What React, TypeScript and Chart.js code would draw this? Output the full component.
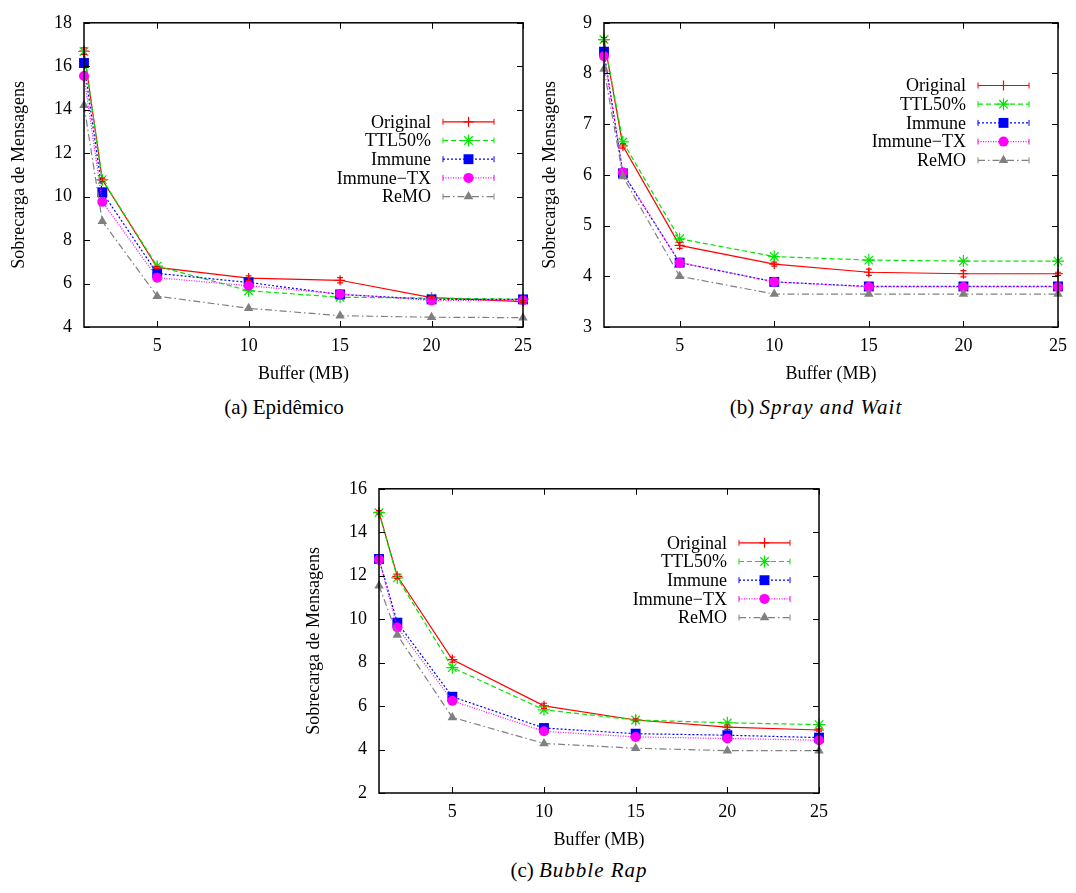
import React, { useEffect, useRef } from "react";
import { Chart, registerables } from "chart.js";

Chart.register(...registerables);

// ---------- data ----------
const bufferMB = [1, 2, 5, 10, 15, 20, 25];
const xTickValues = [5, 10, 15, 20, 25];
const seriesNames = ["Original", "TTL50%", "Immune", "Immune\u2212TX", "ReMO"];
const xAxisTitle = "Buffer (MB)";
const yAxisTitle = "Sobrecarga de Mensagens";

// (a) Epidêmico
const epiOriginal = [16.7, 10.77, 6.74, 6.25, 6.15, 5.35, 5.17];
const epiTTL50 = [16.68, 10.78, 6.8, 5.67, 5.37, 5.33, 5.28];
const epiImmune = [16.15, 10.2, 6.47, 6.05, 5.5, 5.27, 5.27];
const epiImmuneTX = [15.55, 9.76, 6.27, 5.9, 5.52, 5.22, 5.23];
const epiReMO = [14.2, 8.87, 5.42, 4.86, 4.52, 4.45, 4.43];
const epiOriginalErr = [0.15, 0.08, 0.05, 0.1, 0.12, 0.05, 0.05];

// (b) Spray and Wait
const sawOriginal = [8.67, 6.57, 4.61, 4.24, 4.08, 4.05, 4.05];
const sawTTL50 = [8.67, 6.65, 4.74, 4.39, 4.32, 4.3, 4.3];
const sawImmune = [8.43, 6.03, 4.27, 3.89, 3.8, 3.8, 3.8];
const sawImmuneTX = [8.34, 6.05, 4.27, 3.89, 3.79, 3.79, 3.79];
const sawReMO = [8.09, 5.97, 4.0, 3.65, 3.65, 3.65, 3.65];
const sawOriginalErr = [0.04, 0.04, 0.06, 0.04, 0.06, 0.06, 0.03];

// (c) Bubble Rap
const brOriginal = [14.92, 11.97, 8.14, 6.01, 5.36, 5.03, 4.9];
const brTTL50 = [14.9, 11.9, 7.77, 5.83, 5.36, 5.23, 5.15];
const brImmune = [12.77, 9.84, 6.43, 4.99, 4.73, 4.66, 4.55];
const brImmuneTX = [12.74, 9.62, 6.24, 4.84, 4.58, 4.51, 4.43];
const brReMO = [11.54, 9.27, 5.48, 4.28, 4.06, 3.95, 3.95];
const brOriginalErr = [0.08, 0.1, 0.12, 0.12, 0.05, 0.1, 0.05];

// ---------- styles ----------
const FONT = "'Liberation Serif', 'DejaVu Serif', 'Noto Serif', serif";
const seriesStyles = [
  { color: "#ff0000", dash: [] as number[], point: "cross", radius: 5, lw: 1.2 },
  { color: "#00e600", dash: [5, 3], point: "star", radius: 6, lw: 1.2 },
  { color: "#0000ff", dash: [2, 2], point: "rect", radius: 7, lw: 1.2 },
  { color: "#ff00ff", dash: [1, 1.5], point: "circle", radius: 5, lw: 1.2 },
  { color: "#808080", dash: [7, 3, 1.5, 3], point: "triangle", radius: 5.5, lw: 1.2 },
];

function drawMarker(ctx: CanvasRenderingContext2D, kind: string, x: number, y: number, r: number, color: string) {
  ctx.save();
  ctx.setLineDash([]);
  ctx.strokeStyle = color;
  ctx.fillStyle = color;
  ctx.lineWidth = 1.2;
  ctx.beginPath();
  if (kind === "cross" || kind === "star") {
    ctx.moveTo(x - r, y);
    ctx.lineTo(x + r, y);
    ctx.moveTo(x, y - r);
    ctx.lineTo(x, y + r);
    if (kind === "star") {
      const d = r * Math.SQRT1_2;
      ctx.moveTo(x - d, y - d);
      ctx.lineTo(x + d, y + d);
      ctx.moveTo(x - d, y + d);
      ctx.lineTo(x + d, y - d);
    }
    ctx.stroke();
  } else if (kind === "rect") {
    const s = r * Math.SQRT1_2;
    ctx.rect(x - s, y - s, 2 * s, 2 * s);
    ctx.fill();
  } else if (kind === "circle") {
    ctx.arc(x, y, r, 0, Math.PI * 2);
    ctx.fill();
  } else if (kind === "triangle") {
    ctx.moveTo(x, y - r);
    ctx.lineTo(x + r * 0.866, y + r * 0.5);
    ctx.lineTo(x - r * 0.866, y + r * 0.5);
    ctx.closePath();
    ctx.fill();
  }
  ctx.restore();
}

type PanelCfg = {
  series: number[][];
  errors: number[];
  yMin: number;
  yMax: number;
  yStep: number;
  left: number;
  top: number;
  width: number;
  height: number;
  yAxisWidth: number;
  legendOffset: number;
};

const panels: PanelCfg[] = [
  {
    series: [epiOriginal, epiTTL50, epiImmune, epiImmuneTX, epiReMO],
    errors: epiOriginalErr,
    yMin: 4, yMax: 18, yStep: 2,
    left: 0, top: 0, width: 540, height: 385, yAxisWidth: 84, legendOffset: 99,
  },
  {
    series: [sawOriginal, sawTTL50, sawImmune, sawImmuneTX, sawReMO],
    errors: sawOriginalErr,
    yMin: 3, yMax: 9, yStep: 1,
    left: 531, top: 0, width: 544, height: 385, yAxisWidth: 73, legendOffset: 62.7,
  },
  {
    series: [brOriginal, brTTL50, brImmune, brImmuneTX, brReMO],
    errors: brOriginalErr,
    yMin: 2, yMax: 16, yStep: 2,
    left: 295, top: 466, width: 541, height: 385, yAxisWidth: 84, legendOffset: 54,
  },
];

function Panel({ cfg }: { cfg: PanelCfg }) {
  const ref = useRef<HTMLCanvasElement>(null);
  useEffect(() => {
    const font = { family: FONT, size: 18 };
    const frame = {
      id: "gnuFrame",
      afterDatasetsDraw(chart: any) {
        const { ctx, chartArea } = chart;
        const xs = chart.scales.x;
        const ys = chart.scales.y;
        ctx.save();
        // error bars on Original
        ctx.strokeStyle = seriesStyles[0].color;
        ctx.lineWidth = 1.2;
        ctx.setLineDash([]);
        cfg.series[0].forEach((v, i) => {
          const px = xs.getPixelForValue(bufferMB[i]);
          const y1 = ys.getPixelForValue(v + cfg.errors[i]);
          const y2 = ys.getPixelForValue(v - cfg.errors[i]);
          ctx.beginPath();
          ctx.moveTo(px, y1);
          ctx.lineTo(px, y2);
          ctx.moveTo(px - 3, y1);
          ctx.lineTo(px + 3, y1);
          ctx.moveTo(px - 3, y2);
          ctx.lineTo(px + 3, y2);
          ctx.stroke();
        });
        // border
        ctx.strokeStyle = "#000";
        ctx.lineWidth = 1.5;
        ctx.strokeRect(chartArea.left, chartArea.top, chartArea.right - chartArea.left, chartArea.bottom - chartArea.top);
        ctx.lineWidth = 1;
        const tl = 6;
        ctx.beginPath();
        ys.ticks.forEach((t: any) => {
          const py = Math.round(ys.getPixelForValue(t.value)) + 0.5;
          ctx.moveTo(chartArea.left, py);
          ctx.lineTo(chartArea.left + tl, py);
          ctx.moveTo(chartArea.right, py);
          ctx.lineTo(chartArea.right - tl, py);
        });
        xs.ticks.forEach((t: any) => {
          const px = Math.round(xs.getPixelForValue(t.value)) + 0.5;
          ctx.moveTo(px, chartArea.bottom);
          ctx.lineTo(px, chartArea.bottom - tl);
          ctx.moveTo(px, chartArea.top);
          ctx.lineTo(px, chartArea.top + tl);
        });
        ctx.stroke();
        // legend
        ctx.font = `18px ${FONT}`;
        ctx.textAlign = "right";
        ctx.textBaseline = "middle";
        seriesNames.forEach((name, i) => {
          const st = seriesStyles[i];
          const y = chartArea.top + cfg.legendOffset + i * 18.7;
          ctx.fillStyle = "#000";
          ctx.fillText(name, chartArea.right - 92, y + 1);
          const x1 = chartArea.right - 80;
          const x2 = chartArea.right - 29;
          ctx.strokeStyle = st.color;
          ctx.lineWidth = st.lw;
          ctx.setLineDash(st.dash);
          ctx.beginPath();
          ctx.moveTo(x1, y);
          ctx.lineTo(x2, y);
          ctx.stroke();
          ctx.setLineDash([]);
          ctx.lineWidth = 1;
          ctx.beginPath();
          ctx.moveTo(x1, y - 3);
          ctx.lineTo(x1, y + 3);
          ctx.moveTo(x2, y - 3);
          ctx.lineTo(x2, y + 3);
          ctx.stroke();
          drawMarker(ctx, st.point, (x1 + x2) / 2, y, st.radius, st.color);
        });
        ctx.restore();
      },
    };

    const chart = new Chart(ref.current as HTMLCanvasElement, {
      type: "line",
      data: {
        labels: bufferMB,
        datasets: cfg.series.map((vals, i) => {
          const st = seriesStyles[i];
          return {
            label: seriesNames[i],
            data: vals.map((v, j) => ({ x: bufferMB[j], y: v })),
            borderColor: st.color,
            backgroundColor: st.color,
            borderWidth: st.lw,
            borderDash: st.dash,
            pointStyle: st.point as any,
            pointRadius: st.radius,
            pointBorderWidth: st.point === "cross" || st.point === "star" ? 1.2 : 0,
            pointBackgroundColor: st.color,
            pointBorderColor: st.color,
            tension: 0,
            fill: false,
            clip: false as any,
            order: 4 - i,
          };
        }),
      },
      options: {
        animation: false,
        responsive: false,
        maintainAspectRatio: false,
        layout: { padding: { top: 15, right: 10, left: 0, bottom: 0 } },
        plugins: { legend: { display: false }, tooltip: { enabled: false } },
        scales: {
          x: {
            type: "linear",
            min: 1,
            max: 25,
            afterBuildTicks: (s: any) => {
              s.ticks = xTickValues.map((v) => ({ value: v }));
            },
            afterFit: (s: any) => {
              s.height = 58;
            },
            grid: { display: false, drawTicks: false },
            border: { display: false },
            ticks: { font, color: "#000", padding: 8, maxRotation: 0, autoSkip: false },
            title: { display: true, text: xAxisTitle, font, color: "#000", padding: { top: 0, bottom: 0 } },
          },
          y: {
            type: "linear",
            min: cfg.yMin,
            max: cfg.yMax,
            afterFit: (s: any) => {
              s.width = cfg.yAxisWidth;
            },
            grid: { display: false, drawTicks: false },
            border: { display: false },
            ticks: { font, color: "#000", padding: 12, stepSize: cfg.yStep },
            title: { display: true, text: yAxisTitle, font, color: "#000", padding: { top: 8, bottom: 0 } },
          },
        },
      },
      plugins: [frame],
    } as any);
    return () => chart.destroy();
  }, [cfg]);
  return (
    <canvas
      ref={ref}
      width={cfg.width}
      height={cfg.height}
      style={{ position: "absolute", left: cfg.left, top: cfg.top, width: cfg.width, height: cfg.height }}
    />
  );
}

const captionStyle: React.CSSProperties = {
  position: "absolute",
  transform: "translateX(-50%)",
  whiteSpace: "nowrap",
  fontFamily: FONT,
  fontSize: 21,
  lineHeight: "24px",
  color: "#000",
};
const italic: React.CSSProperties = { fontStyle: "italic", letterSpacing: "1px" };

export default function App() {
  return (
    <div style={{ position: "absolute", left: 0, top: 0, width: 1076, height: 893, background: "#fff", overflow: "hidden" }}>
      {panels.map((p, i) => (
        <Panel key={i} cfg={p} />
      ))}
      <div style={{ ...captionStyle, left: 284, top: 395 }}>(a) Epidêmico</div>
      <div style={{ ...captionStyle, left: 816, top: 395 }}>
        (b) <span style={italic}>Spray and Wait</span>
      </div>
      <div style={{ ...captionStyle, left: 579, top: 858 }}>
        (c) <span style={italic}>Bubble Rap</span>
      </div>
    </div>
  );
}
